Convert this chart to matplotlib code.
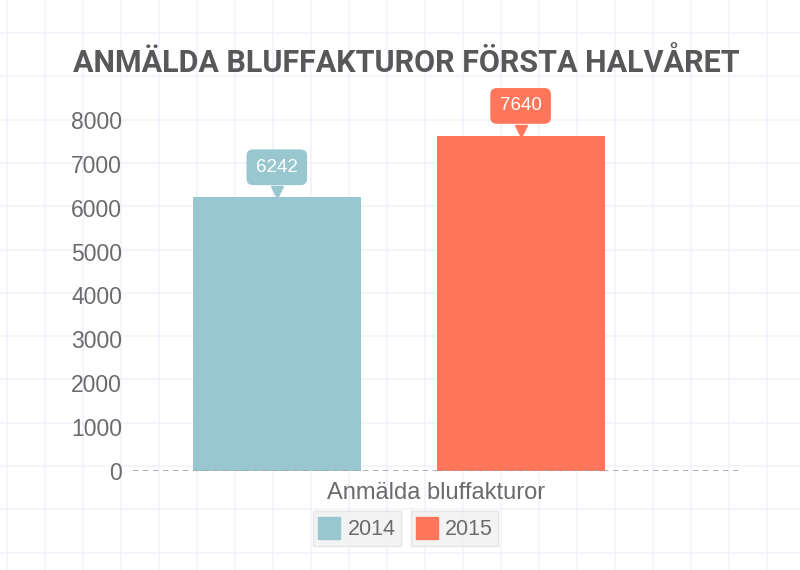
import numpy as np
import matplotlib.pyplot as plt
from matplotlib.patches import Patch
from matplotlib.transforms import offset_copy

years = ['2014', '2015']
values = [6242, 7640]
category = 'Anmälda bluffakturor'
title = 'ANMÄLDA BLUFFAKTUROR FÖRSTA HALVÅRET'
yticks = [0, 1000, 2000, 3000, 4000, 5000, 6000, 7000, 8000]

colors = ['#98c7cf', '#ff765a']
text_gray = '#6b6b6d'

fig = plt.figure(figsize=(8, 5.7), dpi=100)
fig.patch.set_facecolor('white')

# graph paper background
bg = fig.add_axes([0, 0, 1, 1], zorder=-5)
bg.set_xlim(0, 800)
bg.set_ylim(570, 0)
bg.axis('off')
for gx in np.arange(7, 800, 38):
    bg.axvline(gx, color='#f2f1f9', lw=1.1)
for gy in np.arange(33, 600, 43.3):
    bg.axhline(gy, color='#f2f1f9', lw=1.1)

# main axes: x 133..740 px, y 0 at 471 px, 8000 at 120 px
ax = fig.add_axes([133/800, 99/570, 607/800, 351/570])
ax.set_facecolor('none')
xs = np.array([-0.5, 0.5])
ax.bar(xs, values, width=0.69, color=colors, zorder=2)
ax.set_xlim(-1.09, 1.4)
ax.set_ylim(0, 8000)
ax.set_yticks(yticks)
ax.set_yticklabels([str(t) for t in yticks], fontsize=16.5, color=text_gray,
                   family='Liberation Sans')
ax.tick_params(axis='y', length=0, pad=8)
ax.set_xticks([])
for s in ax.spines.values():
    s.set_visible(False)
ax.axhline(0, color='#a2a2a2', lw=1.2, ls=(0, (3.2, 2.8)), zorder=3)
ax.set_xlabel(category, fontsize=17, color=text_gray, family='Liberation Sans',
              labelpad=8)

# value labels with pointer
for x, v, c in zip(xs, values, colors):
    tri = offset_copy(ax.transData, fig=fig, x=0, y=5, units='dots')
    ax.plot([x], [v], marker='v', ms=8, color=c, transform=tri, clip_on=False,
            zorder=4)
    ax.annotate(str(v), xy=(x, v), xytext=(0, 21.5), textcoords='offset points',
                ha='center', va='center', fontsize=13.5, color='white',
                family='Liberation Sans',
                bbox=dict(boxstyle='round,pad=0.5,rounding_size=0.35', fc=c, ec='none'),
                annotation_clip=False, zorder=5)

fig.text(406/800, 1 - 63/570, title, ha='center', va='center', fontsize=22,
         fontweight='bold', color='#58585a', family='Roboto')

# legend boxes
leg_x = [357/800, 454.5/800]
for yr, c, lx in zip(years, colors, leg_x):
    leg = fig.legend(handles=[Patch(color=c, label=yr)], loc='center',
                     bbox_to_anchor=(lx, 1 - 528.5/570), frameon=True,
                     fancybox=False, prop={'family': 'Liberation Sans', 'size': 15.5},
                     handlelength=1.0, handleheight=1.2, handletextpad=0.35,
                     borderpad=0.25, borderaxespad=0)
    leg.get_frame().set_facecolor('#f1f1f1')
    leg.get_frame().set_edgecolor('#e2e2e2')
    for t in leg.get_texts():
        t.set_color(text_gray)

fig.savefig('out.png', dpi=100)
